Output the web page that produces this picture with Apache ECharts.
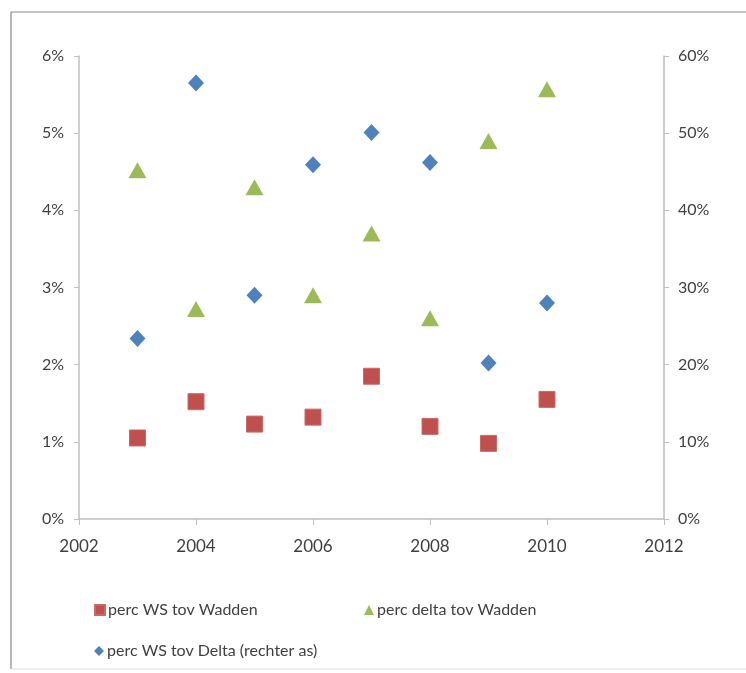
<!DOCTYPE html>
<html>
<head>
<meta charset="utf-8">
<script src="https://cdn.jsdelivr.net/npm/echarts@6/dist/echarts.min.js"></script>
<style>
html,body{margin:0;padding:0;background:#fff;overflow:hidden;}
#c{width:746px;height:673px;}
</style>
</head>
<body>
<div id="c"></div>
<script>
const years = [2003, 2004, 2005, 2006, 2007, 2008, 2009, 2010];
const wsWadden = [0.0105, 0.0152, 0.0123, 0.0132, 0.0185, 0.0120, 0.0098, 0.0155];
const deltaWadden = [0.0452, 0.0272, 0.0430, 0.0290, 0.0370, 0.0260, 0.0490, 0.0557];
const wsDelta = [0.234, 0.565, 0.290, 0.459, 0.501, 0.462, 0.202, 0.280];
const names = ['perc WS tov Wadden', 'perc delta tov Wadden', 'perc WS tov Delta (rechter as)'];

const chart = echarts.init(document.getElementById('c'), null, {renderer: 'canvas'});
const font = 'Lato, "Open Sans", sans-serif';
const axisColor = '#bfbfbf';
const textColor = '#404040';
function pair(xs, ys){ return xs.map((x, i) => [x, ys[i]]); }
function pct(v){ return Math.round(v * 100) + '%'; }

const legendBase = {
  orient: 'horizontal', itemWidth: 10, itemHeight: 10, itemGap: 4,
  textStyle: {fontFamily: font, fontSize: 16, color: textColor, padding: [0,0,0,-2]},
  selectedMode: false
};
const borderStyle = {stroke: '#888', lineWidth: 1.2};

chart.setOption({
  animation: false,
  backgroundColor: '#fff',
  graphic: [
    {type: 'line', silent: true, shape: {x1: 11, y1: 12, x2: 746, y2: 12}, style: borderStyle},
    {type: 'line', silent: true, shape: {x1: 11, y1: 12, x2: 11, y2: 669}, style: borderStyle},
    {type: 'line', silent: true, shape: {x1: 11, y1: 669, x2: 746, y2: 669}, style: {stroke: '#ddd', lineWidth: 1}}
  ],
  grid: {left: 79, right: 82, top: 56, bottom: 154, containLabel: false},
  legend: [
    Object.assign({}, legendBase, {left: 89, top: 597, data: [{name: names[0], icon: 'rect'}]}),
    Object.assign({}, legendBase, {left: 359, top: 597, data: [{name: names[1], icon: 'triangle'}]}),
    Object.assign({}, legendBase, {left: 89, top: 638, data: [{name: names[2], icon: 'diamond'}]})
  ],
  xAxis: {
    type: 'value', min: 2002, max: 2012, interval: 2,
    axisLine: {show: true, lineStyle: {color: axisColor, width: 1.5}},
    axisTick: {show: true, length: 6, lineStyle: {color: axisColor}},
    splitLine: {show: false},
    axisLabel: {fontFamily: font, fontSize: 17, color: textColor, margin: 19, formatter: v => String(v)}
  },
  yAxis: [{
    type: 'value', min: 0, max: 0.06, interval: 0.01, position: 'left',
    axisLine: {show: true, onZero: false, lineStyle: {color: axisColor, width: 1.5}},
    axisTick: {show: true, length: 5, lineStyle: {color: axisColor}},
    splitLine: {show: false},
    axisLabel: {fontFamily: font, fontSize: 16, color: textColor, margin: 15, formatter: pct}
  }, {
    type: 'value', min: 0, max: 0.6, interval: 0.1, position: 'right',
    axisLine: {show: true, onZero: false, lineStyle: {color: axisColor, width: 1.5}},
    axisTick: {show: true, length: 5, lineStyle: {color: axisColor}},
    splitLine: {show: false},
    axisLabel: {fontFamily: font, fontSize: 16, color: textColor, margin: 14, formatter: pct}
  }],
  series: [{
    name: names[0], type: 'scatter', yAxisIndex: 0,
    symbol: 'rect', symbolSize: 16,
    itemStyle: {color: '#c0504d', opacity: 1, borderColor: '#c96a66', borderWidth: 1},
    data: pair(years, wsWadden)
  }, {
    name: names[1], type: 'scatter', yAxisIndex: 0,
    symbol: 'triangle', symbolSize: [18, 16],
    itemStyle: {color: '#9bbb59', opacity: 1},
    data: pair(years, deltaWadden)
  }, {
    name: names[2], type: 'scatter', yAxisIndex: 1,
    symbol: 'diamond', symbolSize: [16, 17],
    itemStyle: {color: '#4f81bd', opacity: 1},
    data: pair(years, wsDelta)
  }]
});
</script>
</body>
</html>
